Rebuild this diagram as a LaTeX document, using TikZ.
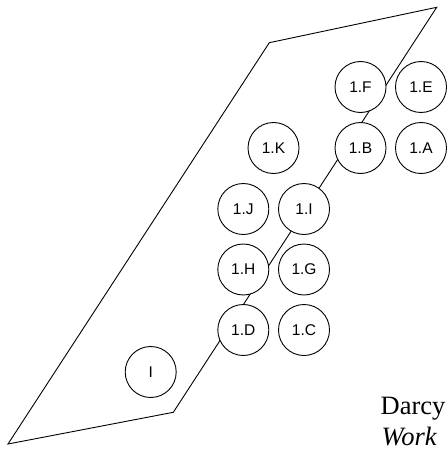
\documentclass[tikz,border=0pt]{standalone}
\usepackage{fontspec}
\setmainfont{Liberation Serif}
\newfontfamily\labelsans{Liberation Sans}
\begin{document}
\begin{tikzpicture}[x=1pt,y=-1pt,
  ring/.style={circle,draw,fill=white,line width=0.9pt,minimum size=51pt,inner sep=0pt,
    font=\labelsans\fontsize{15.5}{18}\selectfont},
  outline/.style={line width=0.9pt,line join=miter}]
\useasboundingbox (0,0) rectangle (447,452);
\clip (0,0) rectangle (447,452);
\coordinate (p1) at (8,444);
\coordinate (p2) at (173.3,412.3);
\coordinate (p3) at (436.7,7.3);
\coordinate (p4) at (269.3,42.7);
\draw[outline] (p1) -- (p2) -- (p3) -- (p4) -- cycle;
\node[ring] (nF) at (360.5,87) {1.F};
\node[ring] (nE) at (421,87) {1.E};
\node[ring] (nB) at (360.5,148) {1.B};
\node[ring] (nA) at (421,148) {1.A};
\node[ring] (nK) at (273.5,148) {1.K};
\node[ring] (nJ) at (243.3,209) {1.J};
\node[ring] (nI) at (304,209) {1.I};
\node[ring] (nH) at (243.3,269.5) {1.H};
\node[ring] (nG) at (304,269.5) {1.G};
\node[ring] (nD) at (243.3,330) {1.D};
\node[ring] (nC) at (304,330) {1.C};
\node[ring] (nRoot) at (150.7,372) {I};
\node[anchor=base west,inner sep=0pt,font=\fontsize{26.5}{30}\selectfont] (t1) at (380.5,414.3) {Darcy};
\node[anchor=base west,inner sep=0pt,font=\fontsize{26.5}{30}\selectfont\itshape] (t2) at (381.5,445.7) {Work};
\end{tikzpicture}
\end{document}
